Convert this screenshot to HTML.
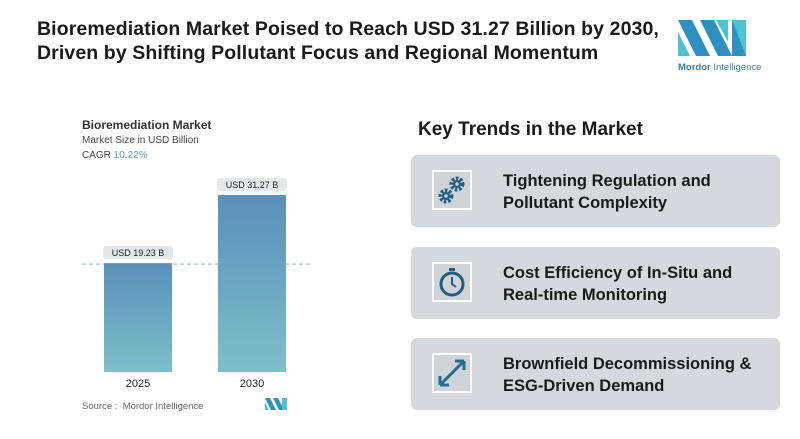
<!DOCTYPE html>
<html><head><meta charset="utf-8">
<style>
body{margin:0;width:800px;height:439px;background:#fff;font-family:"Liberation Sans",sans-serif;position:relative;overflow:hidden;color:#1a1a1a}
.abs{position:absolute}
.title{left:37px;top:17px;font-size:19.5px;font-weight:bold;line-height:24px;letter-spacing:0.1px}
.card{left:411px;width:369px;height:72px;background:#d5d8dc;border-radius:6px}
.icon{left:21px;top:15px;width:40px;height:40px;background:#d0d4d9;border:2px solid #fff;box-sizing:border-box}
.ct{left:92px;top:15px;font-size:16.5px;font-weight:bold;line-height:22px;letter-spacing:0px}
</style></head><body>
<div class="abs title">Bioremediation Market Poised to Reach USD 31.27 Billion by 2030,<br>Driven by Shifting Pollutant Focus and Regional Momentum</div>
<svg class="abs" style="left:676px;top:18px" width="100" height="60">
<polygon points="2,2 16,2 34,38 20,38" fill="#2f8fc1"/><polygon points="2,14 2,38 14,38" fill="#4fc1cf"/>
<polygon points="24,2 38,2 56,38 42,38" fill="#2f8fc1"/><polygon points="40,2 52,2 52,24" fill="#4fc1cf"/>
<polygon points="56,2 70,2 70,38 56,38" fill="#4fc1cf"/><polygon points="56,2 70,38 56,38" fill="#2f8fc1"/>
<text x="2" y="52" font-size="9.5" fill="#3a7ea8" font-family="Liberation Sans"><tspan font-weight="bold">Mordor</tspan> Intelligence</text>
</svg>

<div class="abs" style="left:82px;top:118px;font-size:12px;font-weight:bold;color:#333">Bioremediation Market</div>
<div class="abs" style="left:82px;top:135px;font-size:10px;color:#444">Market Size in USD Billion</div>
<div class="abs" style="left:82px;top:150px;font-size:10px;color:#444">CAGR <span style="color:#6a9cc4">10.22%</span></div>
<svg id="chart" class="abs" style="left:0;top:0" width="400" height="439">
<defs><linearGradient id="g" x1="0" y1="0" x2="0" y2="1"><stop offset="0" stop-color="#5a8fbb"/><stop offset="1" stop-color="#7dbfc9"/></linearGradient></defs>
</svg>
<div class="abs" style="left:82px;top:401px;font-size:9.5px;color:#666">Source :&nbsp; Mordor Intelligence</div>
<svg class="abs" style="left:265px;top:398px" width="22" height="12"><polygon points="0,0 5,0 11,12 6,12" fill="#2f8fc1"/><polygon points="8,0 13,0 19,12 14,12" fill="#2f8fc1"/><rect x="17" y="0" width="5" height="12" fill="#4fc1cf"/><polygon points="0,4 0,12 4,12" fill="#4fc1cf"/></svg>

<div class="abs" style="left:418px;top:119px;font-size:19px;font-weight:bold">Key Trends in the Market</div>

<div class="abs card" style="top:155px">
<div class="abs icon"><svg width="36" height="36" viewBox="0 0 36 36"><circle cx="23" cy="12" r="5.5" fill="none" stroke="#1f5f7f" stroke-width="4" stroke-dasharray="2.5,1.6"/><circle cx="23" cy="12" r="4" fill="#1f5f7f"/><circle cx="23" cy="12" r="1.8" fill="#d0d4d9"/><circle cx="12" cy="24" r="5.5" fill="none" stroke="#1f5f7f" stroke-width="4" stroke-dasharray="2.5,1.6"/><circle cx="12" cy="24" r="4" fill="#1f5f7f"/><circle cx="12" cy="24" r="1.8" fill="#d0d4d9"/></svg></div>
<div class="abs ct">Tightening Regulation and<br>Pollutant Complexity</div></div>
<div class="abs card" style="top:247px">
<div class="abs icon"><svg width="36" height="36" viewBox="0 0 36 36"><circle cx="18" cy="20" r="11" fill="none" stroke="#1f5f7f" stroke-width="3"/><rect x="15" y="4" width="6" height="3" fill="#1f5f7f"/><path d="M18 13v7l4 3" stroke="#1f5f7f" stroke-width="2" fill="none"/></svg></div>
<div class="abs ct">Cost Efficiency of In-Situ and<br>Real-time Monitoring</div></div>
<div class="abs card" style="top:338px">
<div class="abs icon"><svg width="36" height="36" viewBox="0 0 36 36"><path d="M6 30L30 6M6 30v-9M6 30h9M30 6h-9M30 6v9" stroke="#1f6f8f" stroke-width="3" fill="none"/></svg></div>
<div class="abs ct">Brownfield Decommissioning &amp;<br>ESG-Driven Demand</div></div>

<script>
const categories=["2025","2030"];
const values=[19.23,31.27];
const valueLabels=["USD 19.23 B","USD 31.27 B"];
const svg=document.getElementById('chart');
const NS="http://www.w3.org/2000/svg";
const base=372, k=177/31.27;
const yS=v=>base-v*k;
const xS=i=>104+i*114;
const bw=68;
function mk(t,a){const e=document.createElementNS(NS,t);for(const n in a)e.setAttribute(n,a[n]);svg.appendChild(e);return e;}
const dl=mk('line',{x1:82,x2:310,y1:yS(values[0])+1,y2:yS(values[0])+1,stroke:'#8fb3c4','stroke-dasharray':'4,3','stroke-width':1});


categories.forEach((c,i)=>{
 const x=xS(i),y=yS(values[i]);
 const r=mk('rect',{x:x,y:y,width:bw,height:base-y,fill:'url(#g)'});
 
 
 const lb=mk('rect',{x:x-1,y:y-17,width:bw+2,height:13,rx:3,fill:'#e4e8ea'});
 
 
 const t=mk('text',{x:x+bw/2,y:y-7,'text-anchor':'middle','font-size':9,'font-family':'Liberation Sans',fill:'#222'});
 t.textContent=valueLabels[i];
 
 
 const xl=mk('text',{x:x+bw/2,y:base+15,'text-anchor':'middle','font-size':11,'font-family':'Liberation Sans',fill:'#222'});
 xl.textContent=c;
 
 
});
</script>
</body></html>
